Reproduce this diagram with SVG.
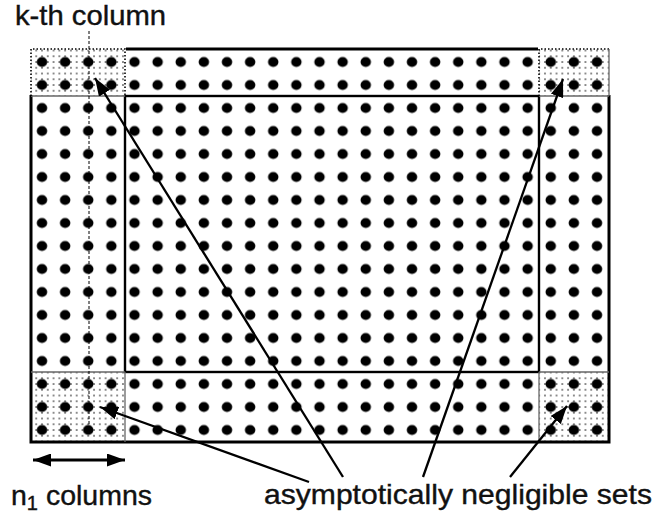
<svg xmlns="http://www.w3.org/2000/svg" width="655" height="519" viewBox="0 0 655 519">
<defs>
<style>
text{font-family:"Liberation Sans",Arial,sans-serif;font-size:28.5px;fill:#111;stroke:#111;stroke-width:0.4}
.thick{fill:none;stroke:#000;stroke-width:3}
.inner{fill:none;stroke:#000;stroke-width:2.4}
.thin{fill:none;stroke:#666;stroke-width:1.3}
.dotb{stroke:#000;stroke-width:1.6;stroke-dasharray:1.5 2;fill:none}
.arr{fill:none;stroke:#000;stroke-width:2.3}
</style>
<pattern id="big" patternUnits="userSpaceOnUse" x="30.4375" y="50.5" width="23.125" height="23">
<ellipse cx="11.5625" cy="11.5" rx="5.2" ry="4.9" fill="#000"/>
</pattern>
<pattern id="stip" patternUnits="userSpaceOnUse" x="39.11" y="59.125" width="5.78125" height="5.75">
<rect x="2.1" y="2.1" width="1.6" height="1.6" fill="#555"/>
</pattern>
<marker id="ah" markerUnits="userSpaceOnUse" viewBox="0 0 18 13" refX="18" refY="6.5" markerWidth="18" markerHeight="13" orient="auto-start-reverse">
<path d="M0,0 L18,6.5 L0,13 Z" fill="#000"/>
</marker>
</defs>
<rect width="655" height="519" fill="#fff"/>
<g id="corners">
<rect x="31" y="372" width="94" height="70" fill="url(#stip)"/>
<rect x="539" y="372" width="70" height="70" fill="url(#stip)"/>
</g>
<g id="frames">
<rect class="thick" x="31" y="49" width="578" height="393"/>
<rect class="inner" x="125" y="96" width="414" height="276"/>
<line class="thin" x1="31" y1="96" x2="125" y2="96"/>
<line class="thin" x1="539" y1="96" x2="609" y2="96"/>
<line class="thin" x1="31" y1="372" x2="125" y2="372"/>
<line class="thin" x1="539" y1="372" x2="609" y2="372"/>
<line class="thin" x1="125" y1="372" x2="125" y2="442"/>
<line class="thin" x1="539" y1="372" x2="539" y2="442"/>
</g>
<g id="top-corners">
<rect x="29" y="47" width="97" height="48" fill="#fff"/>
<rect x="538" y="47" width="73" height="48" fill="#fff"/>
<rect x="31" y="49" width="94" height="47" fill="url(#stip)"/>
<rect x="539" y="49" width="70" height="47" fill="url(#stip)"/>
<path class="dotb" d="M31,96 V49 H125 V96"/>
<path class="dotb" d="M539,96 V49 H609"/>
<line class="thin" x1="609" y1="49" x2="609" y2="96"/>
</g>
<g id="grid">
<rect x="30.4375" y="50.5" width="578.125" height="391" fill="url(#big)"/>
</g>
<g id="kcol">
<line x1="89" y1="31" x2="89" y2="436" stroke="#000" stroke-width="1" stroke-dasharray="3 2"/>
</g>
<g id="connectors">
<line class="arr" x1="343" y1="477" x2="95" y2="78" marker-end="url(#ah)"/>
<line class="arr" x1="309" y1="482" x2="100" y2="407" marker-end="url(#ah)"/>
<line class="arr" x1="423" y1="477" x2="563" y2="79" marker-end="url(#ah)"/>
<line class="arr" x1="510" y1="477" x2="567" y2="406" marker-end="url(#ah)"/>
<line x1="33" y1="460" x2="125" y2="460" stroke="#000" stroke-width="2.8" marker-start="url(#ah)" marker-end="url(#ah)"/>
</g>
<g id="labels">
<text x="15" y="24.5" font-size="26" textLength="151" lengthAdjust="spacingAndGlyphs">k-th column</text>
<text x="11" y="505">n<tspan font-size="20" dy="5">1</tspan><tspan dy="-5"> columns</tspan></text>
<text x="264" y="504" textLength="388" lengthAdjust="spacingAndGlyphs">asymptotically negligible sets</text>
</g>
</svg>
